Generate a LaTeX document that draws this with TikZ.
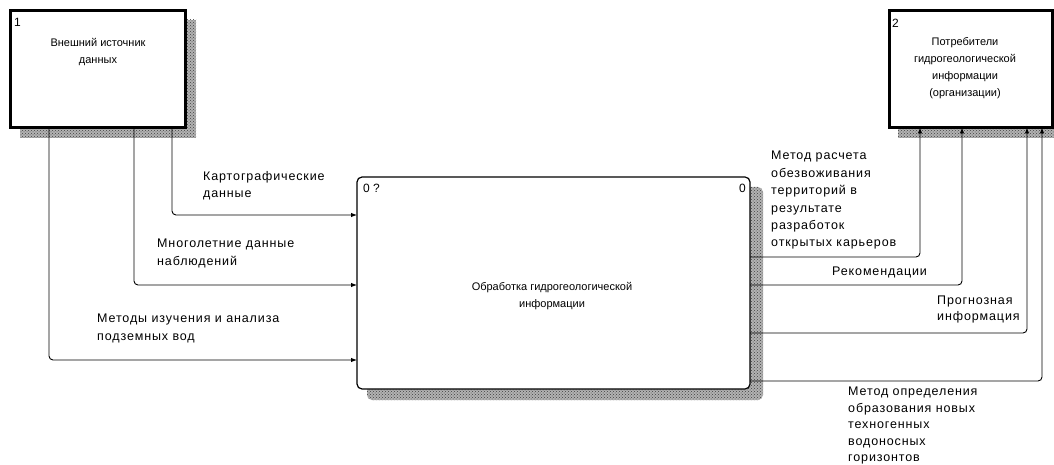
\documentclass[tikz,border=0pt]{standalone}
\usepackage{fontspec}
\setmainfont{Liberation Sans}
\newfontfamily\lblfont[LetterSpace=7]{Liberation Sans}
\usetikzlibrary{arrows.meta,patterns}
\begin{document}
\begin{tikzpicture}[x=1pt,y=1pt,
  shadow/.style={fill=black!30, postaction={pattern=crosshatch dots, pattern color=black!75}, draw=none},
  extbox/.style={draw, line width=3pt, fill=white, anchor=north west, inner sep=0, outer sep=0},
  procbox/.style={draw, line width=1.2pt, rounded corners=5pt, fill=white, anchor=north west, inner sep=0, outer sep=0},
  boxtext/.style={font=\fontsize{11}{17}\selectfont, align=center, inner sep=0},
  lbl/.style={font=\lblfont\fontsize{12.5}{17.4}\selectfont, align=left, anchor=north west, inner sep=0},
  flow/.style={line width=0.9pt, rounded corners=4pt, -{Latex[length=6pt,width=4.5pt]}},
  num/.style={font=\fontsize{12}{14}\selectfont, anchor=north west, inner sep=0}
]
\useasboundingbox (0,0) rectangle (1054,-465);
\fill[white] (0,0) rectangle (1054,-465);
% shadows
\path[shadow] (20,-20) rectangle (196,-138);
\path[shadow] (898,-20) rectangle (1054,-138);
\path[shadow, rounded corners=5pt] (367,-187) rectangle (763,-400);
% boxes
\node[extbox, minimum width=175pt, minimum height=117pt] (src) at (10.5,-10.5) {};
\node[extbox, minimum width=163pt, minimum height=117pt] (dst) at (889.5,-10.5) {};
\node[procbox, minimum width=393pt, minimum height=212pt] (proc) at (357,-177) {};
% numbers
\node[num] (n1) at (14,-18) {1};
\node[num] (n2) at (892,-19) {2};
\node[num] (n0a) at (363,-184) {0 ?};
\node[num] (n0b) at (739,-184) {0};
% box texts
\node[boxtext] (srcname) at (98,-52) {Внешний источник\\данных};
\node[boxtext] (dstname) at (965,-68) {Потребители\\гидрогеологической\\информации\\(организации)};
\node[boxtext] (procname) at (552,-296) {Обработка гидрогеологической\\информации};
% coordinates
\coordinate (a1) at (172,-215);
\coordinate (a2) at (134,-285);
\coordinate (a3) at (49,-360);
\coordinate (b1) at (920,-257);
\coordinate (b2) at (962,-285);
\coordinate (b3) at (1027,-333);
\coordinate (b4) at (1042,-381);
% inputs
\draw[flow] (src.south -| a1) |- (proc.west |- a1);
\draw[flow] (src.south -| a2) |- (proc.west |- a2);
\draw[flow] (src.south -| a3) |- (proc.west |- a3);
% outputs
\draw[flow] (proc.east |- b1) -| (dst.south -| b1);
\draw[flow] (proc.east |- b2) -| (dst.south -| b2);
\draw[flow] (proc.east |- b3) -| (dst.south -| b3);
\draw[flow] (proc.east |- b4) -| (dst.south -| b4);
% labels
\node[lbl] (l1) at (203,-171) {Картографические\\данные};
\node[lbl] (l2) at (157,-239) {Многолетние данные\\наблюдений};
\node[lbl] (l3) at (97,-314) {Методы изучения и анализа\\подземных вод};
\node[lbl] (l4) at (771,-151) {Метод расчета\\обезвоживания\\территорий в\\результате\\разработок\\открытых карьеров};
\node[lbl] (l5) at (832,-267) {Рекомендации};
\node[lbl, font=\lblfont\fontsize{12.5}{15.5}\selectfont] (l6) at (937,-296) {Прогнозная\\информация};
\node[lbl, font=\lblfont\fontsize{12.5}{16.4}\selectfont] (l7) at (848,-387) {Метод определения\\образования новых\\техногенных\\водоносных\\горизонтов};
\end{tikzpicture}
\end{document}
